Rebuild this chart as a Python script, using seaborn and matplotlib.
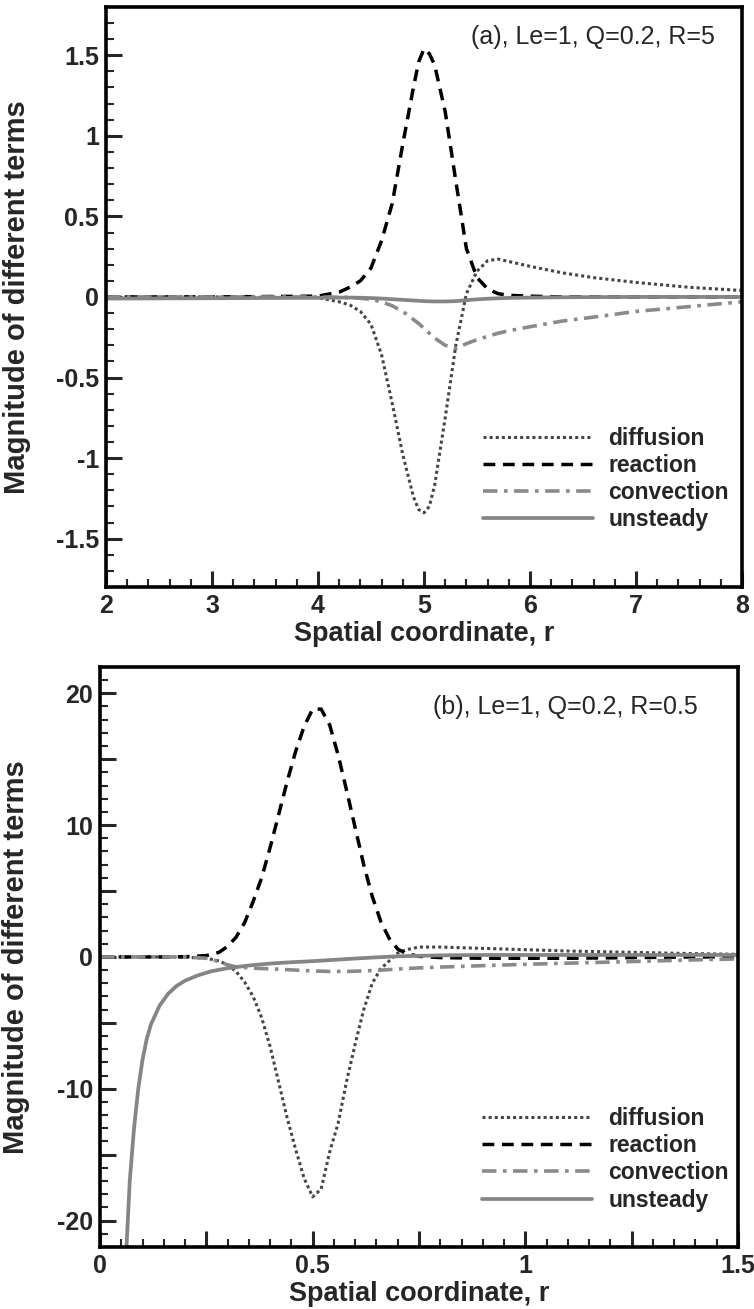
import matplotlib
matplotlib.use("Agg")
import matplotlib.pyplot as plt
from matplotlib.ticker import MultipleLocator
import pandas as pd
import seaborn as sns

# ---------------- data: panel (a), R=5 ----------------
r_a = [2.0, 3.0, 4.0, 4.2, 4.3, 4.4, 4.5, 4.6, 4.7, 4.8, 4.9, 4.95, 5.0, 5.05,
       5.1, 5.2, 5.3, 5.4, 5.5, 5.6, 5.7, 5.8, 6.0, 6.3, 6.6, 7.0, 7.5, 8.0]
diffusion_a = [0.0, 0.0, -0.005, -0.03, -0.05, -0.09, -0.17, -0.36, -0.66, -0.98,
               -1.24, -1.32, -1.34, -1.30, -1.17, -0.75, -0.30, 0.02, 0.16, 0.225,
               0.235, 0.22, 0.19, 0.15, 0.12, 0.09, 0.06, 0.04]
reaction_a = [0.0, 0.0, 0.005, 0.03, 0.06, 0.10, 0.18, 0.35, 0.58, 0.95, 1.30,
              1.46, 1.54, 1.51, 1.44, 1.15, 0.72, 0.30, 0.12, 0.05, 0.02, 0.01,
              0.005, 0.0, 0.0, 0.0, 0.0, 0.0]
convection_a = [0.0, 0.0, 0.0, -0.002, -0.004, -0.008, -0.015, -0.03, -0.055, -0.09,
                -0.14, -0.165, -0.195, -0.225, -0.255, -0.30, -0.32, -0.29, -0.265,
                -0.245, -0.225, -0.21, -0.185, -0.15, -0.125, -0.09, -0.06, -0.03]
unsteady_a = [-0.01, -0.008, -0.005, -0.004, -0.004, -0.005, -0.007, -0.01, -0.014,
              -0.018, -0.022, -0.024, -0.026, -0.027, -0.028, -0.028, -0.026, -0.02,
              -0.015, -0.011, -0.008, -0.006, -0.004, -0.002, -0.001, 0.0, 0.0, 0.0]

# ---------------- data: panel (b), R=0.5 ----------------
r_b = [0.0, 0.06, 0.1, 0.14, 0.17, 0.2, 0.25, 0.28, 0.3, 0.32, 0.34, 0.36, 0.38,
       0.4, 0.42, 0.44, 0.46, 0.48, 0.5, 0.52, 0.54, 0.56, 0.58, 0.6, 0.62, 0.64,
       0.66, 0.68, 0.7, 0.72, 0.75, 0.8, 0.9, 1.0, 1.1, 1.25, 1.4, 1.5]
diffusion_b = [0.0, 0.0, 0.0, 0.0, 0.0, -0.02, -0.1, -0.3, -0.6, -1.1, -1.9, -3.0,
               -4.6, -6.8, -9.5, -12.2, -14.6, -16.8, -18.2, -17.6, -14.8, -12.6,
               -9.4, -6.6, -4.0, -2.0, -0.9, -0.3, 0.3, 0.55, 0.75, 0.75, 0.65,
               0.55, 0.45, 0.35, 0.25, 0.2]
reaction_b = [0.0, 0.0, 0.0, 0.0, 0.0, 0.02, 0.1, 0.35, 0.8, 1.5, 2.6, 4.2, 6.0,
              8.3, 10.8, 13.3, 15.6, 17.5, 18.8, 18.8, 17.6, 15.3, 12.6, 9.8, 7.0,
              4.6, 2.7, 1.4, 0.6, 0.25, 0.05, -0.05, -0.1, -0.1, -0.1, -0.05, 0.0, 0.0]
convection_b = [0.0, 0.0, 0.0, 0.0, 0.0, 0.0, -0.1, -0.35, -0.6, -0.75, -0.8, -0.85,
                -0.88, -0.9, -0.93, -0.96, -1.0, -1.03, -1.06, -1.08, -1.1, -1.1,
                -1.1, -1.08, -1.06, -1.03, -1.0, -0.96, -0.92, -0.88, -0.83, -0.77,
                -0.66, -0.56, -0.47, -0.35, -0.22, -0.15]
r_b_unsteady = [0.06, 0.07, 0.08, 0.09, 0.1, 0.11, 0.12, 0.14, 0.16, 0.18, 0.2, 0.23,
                0.26, 0.3, 0.35, 0.4, 0.45, 0.5, 0.55, 0.6, 0.65, 0.7, 0.8, 0.9, 1.0,
                1.2, 1.5]
unsteady_b = [-23.5, -17.0, -13.0, -10.0, -7.8, -6.2, -5.1, -3.7, -2.8, -2.2, -1.8,
              -1.4, -1.1, -0.85, -0.65, -0.5, -0.4, -0.32, -0.22, -0.12, -0.03, 0.05,
              0.12, 0.15, 0.15, 0.15, 0.15]

terms = ["diffusion", "reaction", "convection", "unsteady"]

# tick labels
a_xticks = [2, 3, 4, 5, 6, 7, 8]
a_xticklabels = ["2", "3", "4", "5", "6", "7", "8"]
a_yticks = [-1.5, -1.0, -0.5, 0.0, 0.5, 1.0, 1.5]
a_yticklabels = ["-1.5", "-1", "-0.5", "0", "0.5", "1", "1.5"]
b_xticks = [0, 0.25, 0.5, 0.75, 1.0, 1.25, 1.5]
b_xticklabels = ["0", "", "0.5", "", "1", "", "1.5"]
b_yticks = [-20, -15, -10, -5, 0, 5, 10, 15, 20]
b_yticklabels = ["-20", "", "-10", "", "0", "", "10", "", "20"]

# line styles per term
line_styles = {
    "diffusion": dict(color="#454545", linewidth=2.2, linestyle=(0, (1, 1.0))),
    "reaction": dict(color="black", linewidth=2.5, linestyle=(0, (3.4, 2.2))),
    "convection": dict(color="#8a8a8a", linewidth=2.6, linestyle=(0, (4, 1.8, 1, 1.8))),
    "unsteady": dict(color="#858585", linewidth=2.7, linestyle="-"),
}

sns.set_style("ticks")
plt.rcParams['font.family'] = ['Liberation Sans', 'DejaVu Sans']
plt.rcParams['font.weight'] = 'bold'
plt.rcParams['axes.labelweight'] = 'bold'
plt.rcParams['axes.unicode_minus'] = False

fig = plt.figure(figsize=(7.54, 13.09), dpi=100)
ax_a = fig.add_axes([0.1406, 0.5516, 0.8435, 0.4431])
ax_b = fig.add_axes([0.1326, 0.0474, 0.8462, 0.4431])


def draw_panel(ax, series, xlim, ylim, xticks, xlabels, yticks, ylabels,
               xminor, yminor, note, note_xy, leg_xy, ylab_x):
    for term in terms:
        r, vals = series[term]
        df = pd.DataFrame({"r": r, "value": vals})
        sns.lineplot(data=df, x="r", y="value", ax=ax, label=term,
                     errorbar=None, **line_styles[term])
    ax.set_xlim(*xlim)
    ax.set_ylim(*ylim)
    ax.set_xticks(xticks, xlabels)
    ax.set_yticks(yticks, ylabels)
    ax.xaxis.set_minor_locator(MultipleLocator(xminor))
    ax.yaxis.set_minor_locator(MultipleLocator(yminor))
    ax.tick_params(which='major', direction='in', length=11.5, width=2.2,
                   labelsize=18, pad=5, top=False, right=False)
    ax.tick_params(which='minor', direction='in', length=6, width=1.5,
                   top=False, right=False)
    for sp in ax.spines.values():
        sp.set_linewidth(2.6)
        sp.set_color("black")
    ax.set_xlabel("Spatial coordinate, r", fontsize=19.5)
    ax.set_ylabel("Magnitude of different terms", fontsize=21)
    ax.xaxis.set_label_coords(0.5, -0.058)
    ax.yaxis.set_label_coords(ylab_x, 0.5)
    ax.text(note_xy[0], note_xy[1], note, transform=ax.transAxes, ha='right',
            va='center', fontsize=18, fontweight='normal')
    ax.legend(loc='upper left', bbox_to_anchor=leg_xy, frameon=False,
              borderpad=0, borderaxespad=0, handlelength=4.8, handletextpad=0.7,
              labelspacing=0.18, prop={'size': 16.5, 'weight': 'bold'})


draw_panel(ax_a,
           {"diffusion": (r_a, diffusion_a), "reaction": (r_a, reaction_a),
            "convection": (r_a, convection_a), "unsteady": (r_a, unsteady_a)},
           (2, 8), (-1.8, 1.8), a_xticks, a_xticklabels, a_yticks, a_yticklabels,
           0.2, 0.1, "(a), Le=1, Q=0.2, R=5", (0.958, 0.948), (0.592, 0.276), -0.118)

draw_panel(ax_b,
           {"diffusion": (r_b, diffusion_b), "reaction": (r_b, reaction_b),
            "convection": (r_b, convection_b), "unsteady": (r_b_unsteady, unsteady_b)},
           (0, 1.5), (-22, 22), b_xticks, b_xticklabels, b_yticks, b_yticklabels,
           0.05, 1, "(b), Le=1, Q=0.2, R=0.5", (0.937, 0.931), (0.599, 0.241), -0.11)

fig.savefig("out.png", dpi=100)
